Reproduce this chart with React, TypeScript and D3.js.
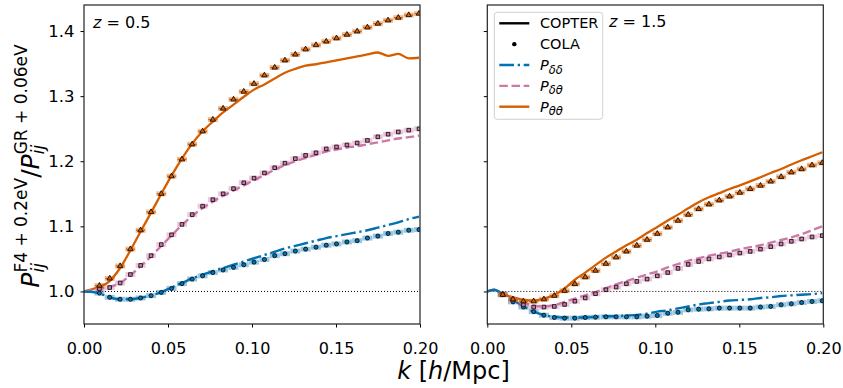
import React, { useEffect, useRef } from 'react';
import * as d3 from 'd3';

// k bins of the COLA measurements (h/Mpc)
const kCola = [0.0092, 0.0153, 0.0215, 0.0276, 0.0337, 0.0399, 0.0460, 0.0521, 0.0583, 0.0644, 0.0706, 0.0767, 0.0828, 0.0890, 0.0951, 0.1012, 0.1074, 0.1135, 0.1196, 0.1258, 0.1319, 0.1381, 0.1442, 0.1503, 0.1565, 0.1626, 0.1687, 0.1749, 0.1810, 0.1871, 0.1933, 0.1994];
// k grid of the COPTER curves
const kCopter = [0, 0.004, 0.0092, 0.0153, 0.0215, 0.0276, 0.0337, 0.0399, 0.0460, 0.0521, 0.0583, 0.0644, 0.0706, 0.0767, 0.0828, 0.0890, 0.0951, 0.1012, 0.1074, 0.1135, 0.1196, 0.1258, 0.1319, 0.1381, 0.1442, 0.1503, 0.1565, 0.1626, 0.1687, 0.1749, 0.1810, 0.1871, 0.1933, 0.1994];

// z = 0.5
const copterDD05 = [1.0, 0.9995, 0.997, 0.991, 0.988, 0.988, 0.990, 0.994, 0.999, 1.006, 1.013, 1.020, 1.026, 1.031, 1.036, 1.041, 1.046, 1.051, 1.056, 1.061, 1.066, 1.070, 1.074, 1.078, 1.082, 1.085, 1.088, 1.091, 1.094, 1.098, 1.102, 1.106, 1.111, 1.115];
const copterDT05 = [1.0, 1.0015, 1.004, 1.007, 1.013, 1.025, 1.039, 1.054, 1.070, 1.086, 1.102, 1.116, 1.128, 1.138, 1.147, 1.155, 1.163, 1.171, 1.179, 1.187, 1.194, 1.200, 1.205, 1.210, 1.215, 1.218, 1.221, 1.223, 1.226, 1.229, 1.232, 1.235, 1.237, 1.2395];
const copterTT05 = [1.0, 1.003, 1.007, 1.016, 1.036, 1.063, 1.092, 1.121, 1.150, 1.178, 1.204, 1.227, 1.246, 1.261, 1.275, 1.287, 1.299, 1.310, 1.318, 1.327, 1.336, 1.342, 1.347, 1.349, 1.352, 1.355, 1.358, 1.361, 1.364, 1.367, 1.362, 1.365, 1.358, 1.359];
const colaDD05 = [0.9975, 0.991, 0.988, 0.988, 0.990, 0.9935, 0.9985, 1.0046, 1.012, 1.019, 1.024, 1.029, 1.033, 1.037, 1.041, 1.045, 1.049, 1.055, 1.058, 1.062, 1.065, 1.068, 1.071, 1.073, 1.076, 1.078, 1.082, 1.085, 1.089, 1.091, 1.094, 1.095];
const colaDT05 = [1.004, 1.006, 1.013, 1.026, 1.040, 1.055, 1.072, 1.087, 1.103, 1.118, 1.131, 1.141, 1.150, 1.158, 1.167, 1.174, 1.182, 1.190, 1.197, 1.204, 1.209, 1.213, 1.219, 1.222, 1.225, 1.228, 1.232, 1.2375, 1.2415, 1.245, 1.2477, 1.2498];
const colaTT05 = [1.009, 1.020, 1.039, 1.065, 1.094, 1.122, 1.150, 1.177, 1.203, 1.226, 1.246, 1.264, 1.281, 1.295, 1.307, 1.319, 1.332, 1.344, 1.355, 1.364, 1.372, 1.3785, 1.384, 1.389, 1.3945, 1.3995, 1.4057, 1.4114, 1.4165, 1.4206, 1.4246, 1.4268];

// z = 1.5
const copterDD15 = [1.0, 1.0025, 0.996, 0.987, 0.977, 0.969, 0.964, 0.961, 0.960, 0.960, 0.960, 0.961, 0.962, 0.962, 0.963, 0.964, 0.966, 0.969, 0.971, 0.974, 0.977, 0.980, 0.982, 0.984, 0.986, 0.987, 0.988, 0.990, 0.991, 0.993, 0.994, 0.995, 0.996, 0.9975];
const copterDT15 = [1.0, 1.0025, 0.996, 0.990, 0.983, 0.978, 0.977, 0.979, 0.984, 0.989, 0.994, 0.999, 1.005, 1.011, 1.016, 1.021, 1.026, 1.031, 1.037, 1.042, 1.047, 1.051, 1.055, 1.058, 1.061, 1.065, 1.068, 1.071, 1.075, 1.079, 1.083, 1.088, 1.094, 1.100];
const copterTT15 = [1.0, 1.0025, 0.996, 0.991, 0.987, 0.986, 0.989, 0.995, 1.0046, 1.018, 1.029, 1.0405, 1.052, 1.0615, 1.071, 1.0795, 1.0897, 1.099, 1.109, 1.118, 1.1277, 1.137, 1.1446, 1.151, 1.1574, 1.163, 1.169, 1.1754, 1.182, 1.188, 1.195, 1.2015, 1.2077, 1.2138];
const colaDD15 = [0.995, 0.984, 0.976, 0.969, 0.9635, 0.960, 0.959, 0.959, 0.960, 0.9605, 0.961, 0.961, 0.961, 0.961, 0.962, 0.963, 0.9665, 0.968, 0.9718, 0.9728, 0.9733, 0.9744, 0.9744, 0.9744, 0.9744, 0.976, 0.977, 0.9795, 0.981, 0.983, 0.9846, 0.9857];
const colaDT15 = [0.996, 0.987, 0.9795, 0.976, 0.976, 0.977, 0.980, 0.985, 0.990, 0.9965, 1.0026, 1.0067, 1.0118, 1.0154, 1.019, 1.024, 1.029, 1.0354, 1.0415, 1.046, 1.050, 1.053, 1.056, 1.059, 1.0615, 1.065, 1.0688, 1.073, 1.077, 1.0806, 1.0837, 1.0857];
const colaTT15 = [0.995, 0.988, 0.985, 0.985, 0.988, 0.9934, 1.001, 1.0115, 1.022, 1.032, 1.0426, 1.0525, 1.0615, 1.0705, 1.0795, 1.0887, 1.0985, 1.1088, 1.118, 1.1267, 1.1338, 1.140, 1.146, 1.1518, 1.1575, 1.1626, 1.169, 1.176, 1.183, 1.188, 1.194, 1.1975];

const xTicks = [0, 0.05, 0.1, 0.15, 0.2];
const yTicks = [1.0, 1.1, 1.2, 1.3, 1.4];
const redshifts = ['0.5', '1.5'];

const BLUE = '#0072B2';
const PINK = '#CC79A7';
const ORANGE = '#D55E00';
const FONT = 'DejaVu Sans';

const App = () => {
  const svgRef = useRef(null);
  const width = 843;
  const height = 388;

  useEffect(() => {
    const svg = d3.select(svgRef.current);
    svg.selectAll('*').remove();

    const top = 5;
    const bottom = 324;
    const yScale = d3.scaleLinear().domain([0.95, 1.44]).range([bottom, top]);

    const panels = [
      { x0: 84, x1: 420, dd: copterDD05, dt: copterDT05, tt: copterTT05, cdd: colaDD05, cdt: colaDT05, ctt: colaTT05, zx: 93, zy: 28 },
      { x0: 487.3, x1: 823.3, dd: copterDD15, dt: copterDT15, tt: copterTT15, cdd: colaDD15, cdt: colaDT15, ctt: colaTT15, zx: 609, zy: 27 },
    ];

    panels.forEach((p, i) => {
      const xScale = d3.scaleLinear().domain([0, 0.2]).range([p.x0, p.x1]);
      const g = svg.append('g');

      const clipId = `clip${i}`;
      svg.append('clipPath').attr('id', clipId)
        .append('rect').attr('x', p.x0).attr('y', top).attr('width', p.x1 - p.x0).attr('height', bottom - top);

      const plot = g.append('g').attr('clip-path', `url(#${clipId})`);

      // reference line at unity
      plot.append('line')
        .attr('x1', p.x0).attr('x2', p.x1)
        .attr('y1', yScale(1)).attr('y2', yScale(1))
        .attr('stroke', '#000').attr('stroke-width', 1).attr('stroke-dasharray', '1,2');

      const line = d3.line()
        .x((d, j) => xScale(kCopter[j]))
        .y(d => yScale(d))
        .curve(d3.curveMonotoneX);

      const drawMarkers = (vals, color, symbol, size, bar) => {
        const mg = plot.append('g');
        vals.forEach((v, j) => {
          const cx = xScale(kCola[j]);
          const cy = yScale(v);
          mg.append('rect')
            .attr('x', cx - 5).attr('y', cy - 2.5).attr('width', 10).attr('height', 5)
            .attr('fill', color).attr('opacity', 0.4);
          if (bar) {
            mg.append('line')
              .attr('x1', cx - 4.5).attr('x2', cx + 4.5).attr('y1', cy).attr('y2', cy)
              .attr('stroke', color).attr('stroke-width', 1.2);
          }
          mg.append('path')
            .attr('d', d3.symbol(symbol).size(size)())
            .attr('transform', `translate(${cx},${cy})`)
            .attr('fill', color).attr('stroke', '#000').attr('stroke-width', 0.8);
        });
      };

      plot.append('path').datum(p.tt).attr('d', line)
        .attr('fill', 'none').attr('stroke', ORANGE).attr('stroke-width', 2.3);
      plot.append('path').datum(p.dt).attr('d', line)
        .attr('fill', 'none').attr('stroke', PINK).attr('stroke-width', 2.4).attr('stroke-dasharray', '8.5,3.7');
      plot.append('path').datum(p.dd).attr('d', line)
        .attr('fill', 'none').attr('stroke', BLUE).attr('stroke-width', 2.4).attr('stroke-dasharray', '14.7,3.7,2.3,3.7');

      drawMarkers(p.cdd, BLUE, d3.symbolCircle, 13, false);
      drawMarkers(p.cdt, PINK, d3.symbolSquare, 13, false);
      drawMarkers(p.ctt, ORANGE, d3.symbolTriangle, 13, true);

      // axes
      const xAxis = g.append('g')
        .attr('transform', `translate(0, ${bottom})`)
        .call(d3.axisBottom(xScale).tickValues(xTicks).tickSize(3.5).tickPadding(15).tickFormat(d3.format('.2f')));
      xAxis.select('.domain').remove();
      xAxis.selectAll('text').style('font-size', '16px').style('font-family', FONT).attr('fill', '#000');
      xAxis.selectAll('line').attr('stroke', '#000').attr('stroke-width', 1);

      const yAxis = g.append('g')
        .attr('transform', `translate(${p.x0}, 0)`)
        .call(d3.axisLeft(yScale).tickValues(yTicks).tickSize(3.5).tickPadding(6)
          .tickFormat(i === 0 ? d3.format('.1f') : () => ''));
      yAxis.select('.domain').remove();
      yAxis.selectAll('text').style('font-size', '16.5px').style('font-family', FONT).attr('fill', '#000');
      yAxis.selectAll('line').attr('stroke', '#000').attr('stroke-width', 1);

      g.append('rect')
        .attr('x', p.x0).attr('y', top).attr('width', p.x1 - p.x0).attr('height', bottom - top)
        .attr('fill', 'none').attr('stroke', '#222').attr('stroke-width', 1.2);

      const zt = g.append('text').attr('x', p.zx).attr('y', p.zy)
        .style('font-family', FONT).style('font-size', '16px');
      zt.append('tspan').attr('font-style', 'italic').text('z');
      zt.append('tspan').text(` = ${redshifts[i]}`);
    });

    // legend (right panel)
    const lg = svg.append('g');
    lg.append('rect')
      .attr('x', 494.3).attr('y', 12.3).attr('width', 108.4).attr('height', 107)
      .attr('rx', 3).attr('fill', '#fff').attr('fill-opacity', 0.8)
      .attr('stroke', '#d0d0d0').attr('stroke-width', 1);

    const items = [
      { label: 'COPTER', sub: '', color: '#000', dash: null, dot: false },
      { label: 'COLA', sub: '', color: '#000', dash: null, dot: true },
      { label: 'P', sub: 'δδ', color: BLUE, dash: '14.7,3.7,2.3,3.7', dot: false },
      { label: 'P', sub: 'δθ', color: PINK, dash: '8.5,3.7', dot: false },
      { label: 'P', sub: 'θθ', color: ORANGE, dash: null, dot: false },
    ];
    items.forEach((it, j) => {
      const cy = 23.3 + j * 20.85;
      if (it.dot) {
        lg.append('circle').attr('cx', 514.3).attr('cy', cy).attr('r', 2.2).attr('fill', '#000');
      } else {
        const l = lg.append('line')
          .attr('x1', 499.3).attr('x2', 529.3).attr('y1', cy).attr('y2', cy)
          .attr('stroke', it.color).attr('stroke-width', 2.4);
        if (it.dash) l.attr('stroke-dasharray', it.dash);
      }
      const t = lg.append('text').attr('x', 540).attr('y', cy + 5)
        .style('font-family', FONT).style('font-size', '14.5px');
      if (it.sub) {
        t.append('tspan').attr('font-style', 'italic').text(it.label);
        t.append('tspan').attr('font-style', 'italic').attr('font-size', '11.5px').attr('dy', 3.5).text(it.sub);
      } else {
        t.text(it.label);
      }
    });

    // axis labels
    const xl = svg.append('text').attr('x', 453.5).attr('y', 379)
      .attr('text-anchor', 'middle')
      .style('font-family', FONT).style('font-size', '24px');
    xl.append('tspan').attr('font-style', 'italic').text('k');
    xl.append('tspan').text(' [');
    xl.append('tspan').attr('font-style', 'italic').text('h');
    xl.append('tspan').text('/Mpc]');

    const yl = svg.append('text')
      .attr('transform', 'translate(39, 166) rotate(-90)')
      .attr('text-anchor', 'middle')
      .style('font-family', FONT).style('font-size', '25px');
    yl.append('tspan').attr('font-style', 'italic').text('P');
    yl.append('tspan').attr('font-style', 'italic').attr('font-size', '17px').attr('dy', 5).text('ij');
    yl.append('tspan').attr('font-size', '17px').attr('dx', -9.5).attr('dy', -17).text('F4 + 0.2eV');
    yl.append('tspan').attr('dy', 12).text('/');
    yl.append('tspan').attr('font-style', 'italic').text('P');
    yl.append('tspan').attr('font-style', 'italic').attr('font-size', '17px').attr('dy', 5).text('ij');
    yl.append('tspan').attr('font-size', '17px').attr('dx', -9.5).attr('dy', -17).text('GR + 0.06eV');
  }, []);

  return (
    <svg ref={svgRef} width={width} height={height}
      style={{ position: 'absolute', left: 0, top: 0, background: '#fff' }} />
  );
};

export default App;
